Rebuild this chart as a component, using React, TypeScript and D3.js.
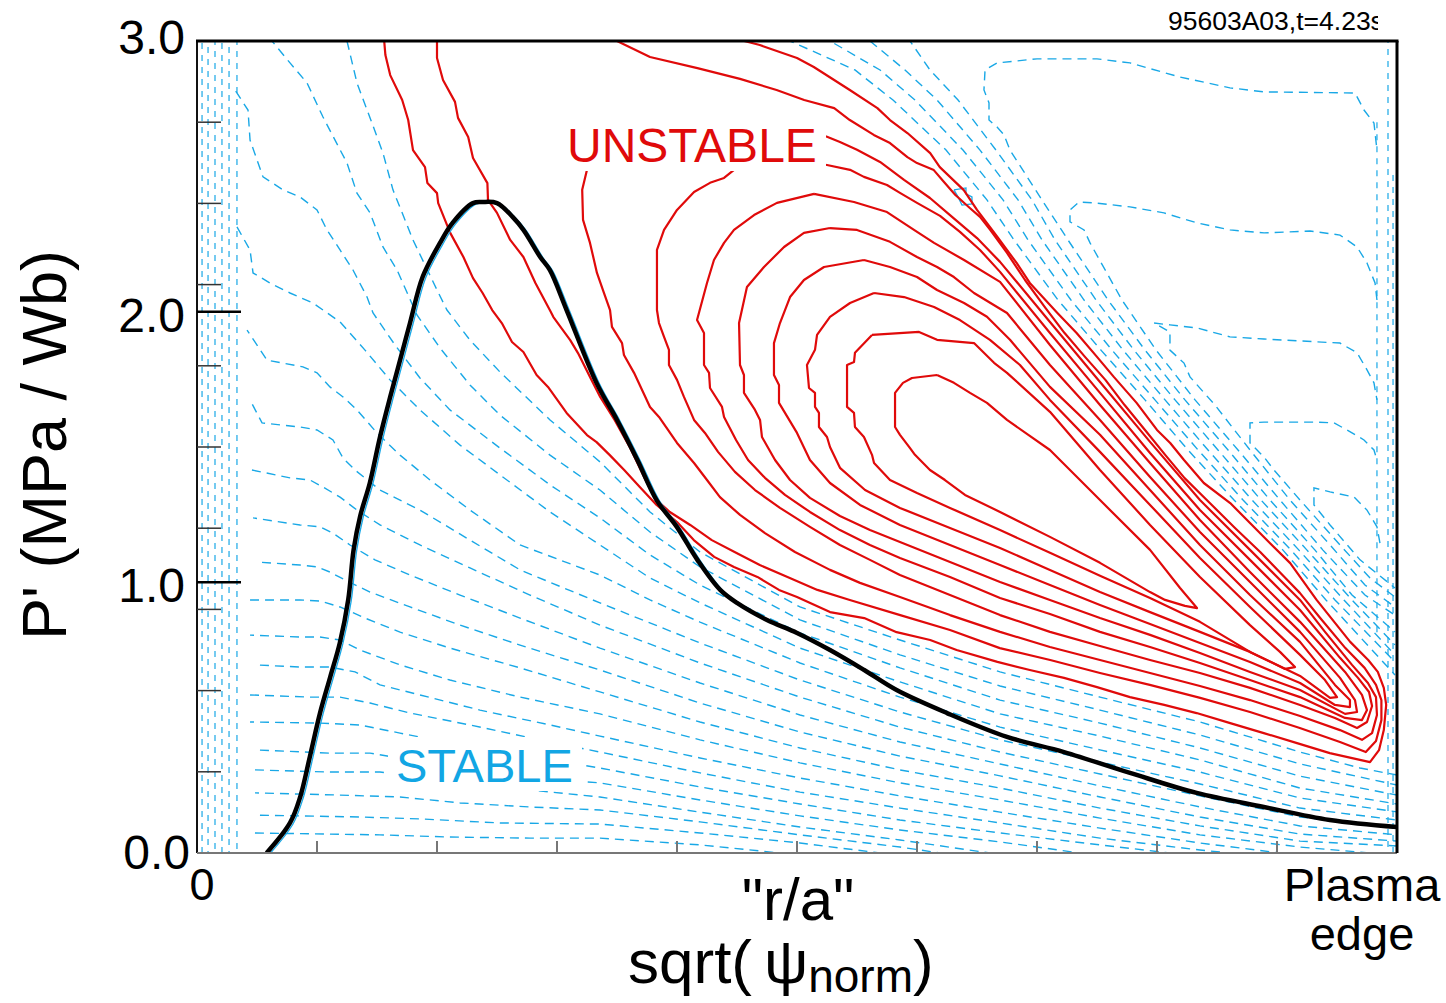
import React from "react";
import * as d3 from "d3";

// ---------- figure frame ----------
const W = 1446;
const H = 1003;
const PLOT = { left: 197, right: 1397, top: 41, bottom: 853 };

// ---------- axes ----------
const X_DOMAIN: [number, number] = [0, 1];
const Y_DOMAIN: [number, number] = [0, 3];
const Y_MAJOR = [0, 1, 2, 3];
const Y_MAJOR_LABELS = ["0.0", "1.0", "2.0", "3.0"];
const Y_MINOR = [0.3, 0.6, 0.9, 1.2, 1.5, 1.8, 2.1, 2.4, 2.7];
const X_MINOR = [0.1, 0.2, 0.3, 0.4, 0.5, 0.6, 0.7, 0.8, 0.9];

type Pt = [number, number];

// ---------- measured pressure-gradient profile P'(r/a) ----------
const profile: Pt[] = [
  [0.058, 0.0], [0.0775, 0.111], [0.086, 0.207], [0.094, 0.355], [0.1025, 0.517],
  [0.111, 0.65], [0.119, 0.776], [0.126, 0.935], [0.1305, 1.12], [0.136, 1.245],
  [0.144, 1.367], [0.1525, 1.537], [0.161, 1.685], [0.167, 1.784], [0.1775, 1.958],
  [0.188, 2.128], [0.2025, 2.254], [0.213, 2.328], [0.23, 2.401], [0.238, 2.405],
  [0.25, 2.401], [0.263, 2.35], [0.272, 2.302], [0.286, 2.202], [0.294, 2.154],
  [0.308, 2.006], [0.333, 1.736], [0.35, 1.6], [0.367, 1.452], [0.383, 1.304],
  [0.4, 1.204], [0.417, 1.083], [0.436, 0.972], [0.45, 0.924], [0.475, 0.861],
  [0.5, 0.813], [0.5275, 0.75], [0.556, 0.676], [0.583, 0.602], [0.625, 0.517],
  [0.675, 0.429], [0.7225, 0.373], [0.7775, 0.296], [0.833, 0.222], [0.889, 0.17],
  [0.944, 0.122], [1.0, 0.096],
];

// ---------- unstable growth-rate contours (outermost first) ----------
const growth1: Pt[] = [
  [0.156, 3.0], [0.157, 2.948], [0.161, 2.874], [0.171, 2.782], [0.176, 2.708], [0.18, 2.597],
  [0.19, 2.534], [0.192, 2.475], [0.2, 2.438], [0.201, 2.401], [0.211, 2.291], [0.222, 2.202],
  [0.23, 2.124], [0.238, 2.069], [0.246, 2.006], [0.254, 1.958], [0.2625, 1.888], [0.272, 1.851],
  [0.283, 1.766], [0.2925, 1.722], [0.308, 1.626], [0.325, 1.544], [0.333, 1.518], [0.344, 1.47],
  [0.356, 1.415], [0.369, 1.352], [0.383, 1.286], [0.4, 1.223], [0.414, 1.156], [0.431, 1.094],
  [0.4475, 1.057], [0.467, 1.02], [0.485, 0.972], [0.5, 0.946], [0.5275, 0.89], [0.556, 0.868],
  [0.583, 0.816], [0.611, 0.787], [0.633, 0.75], [0.667, 0.706], [0.694, 0.676], [0.7225, 0.647],
  [0.75, 0.613], [0.7775, 0.576], [0.806, 0.547], [0.833, 0.517], [0.861, 0.48], [0.889, 0.443],
  [0.9167, 0.406], [0.944, 0.369], [0.9775, 0.336], [0.985, 0.38], [0.989, 0.454], [0.991, 0.547],
  [0.989, 0.61], [0.984, 0.669], [0.976, 0.713], [0.961, 0.78], [0.933, 0.935], [0.911, 1.071],
  [0.894, 1.145], [0.8775, 1.219], [0.861, 1.293], [0.839, 1.367], [0.8225, 1.452], [0.811, 1.515],
  [0.8, 1.563], [0.783, 1.663], [0.764, 1.759], [0.75, 1.833], [0.733, 1.921], [0.717, 1.995],
  [0.694, 2.106], [0.683, 2.18], [0.667, 2.276], [0.65, 2.376], [0.639, 2.449], [0.619, 2.534],
  [0.611, 2.586], [0.592, 2.66], [0.5775, 2.708], [0.567, 2.752], [0.544, 2.819], [0.514, 2.904],
  [0.5, 2.937], [0.469, 2.985], [0.456, 3.0],
];
const growth2: Pt[] = [
  [0.2, 3.0], [0.2, 2.937], [0.205, 2.856], [0.215, 2.775], [0.2175, 2.716], [0.226, 2.645],
  [0.23, 2.568], [0.242, 2.475], [0.2425, 2.413], [0.25, 2.365], [0.261, 2.265], [0.272, 2.202],
  [0.282, 2.106], [0.294, 2.006], [0.297, 1.98], [0.311, 1.895], [0.3175, 1.847], [0.3275, 1.759],
  [0.336, 1.685], [0.348, 1.6], [0.361, 1.496], [0.373, 1.385], [0.383, 1.304], [0.394, 1.26],
  [0.411, 1.212], [0.429, 1.156], [0.448, 1.112], [0.469, 1.064], [0.494, 1.016], [0.517, 0.972],
  [0.544, 0.935], [0.586, 0.879], [0.6275, 0.824], [0.669, 0.757], [0.711, 0.713], [0.7525, 0.665],
  [0.794, 0.621], [0.836, 0.573], [0.8775, 0.521], [0.919, 0.462], [0.9525, 0.41], [0.974, 0.373],
  [0.9825, 0.414], [0.987, 0.491], [0.987, 0.565], [0.9825, 0.621], [0.973, 0.684], [0.957, 0.757],
  [0.936, 0.868], [0.919, 0.961], [0.907, 1.016], [0.886, 1.112], [0.865, 1.201], [0.844, 1.293],
  [0.823, 1.385], [0.807, 1.47], [0.79, 1.563], [0.773, 1.655], [0.757, 1.748], [0.74, 1.833],
  [0.723, 1.921], [0.707, 2.014], [0.69, 2.117], [0.675, 2.217], [0.661, 2.302], [0.6525, 2.35],
  [0.644, 2.383], [0.632, 2.431], [0.6225, 2.479], [0.614, 2.523], [0.6, 2.549], [0.592, 2.571],
  [0.5775, 2.623], [0.564, 2.653], [0.544, 2.708], [0.531, 2.752], [0.506, 2.782], [0.483, 2.819],
  [0.4525, 2.86], [0.417, 2.9], [0.3775, 2.941], [0.35, 3.0],
];
const growth3: Pt[] = [
  [0.336, 2.679], [0.3275, 2.634], [0.325, 2.524], [0.321, 2.45], [0.3217, 2.339], [0.3275, 2.254],
  [0.3333, 2.143], [0.3383, 2.08], [0.3442, 2.006], [0.3458, 1.944], [0.3542, 1.884], [0.3558, 1.84],
  [0.3642, 1.774], [0.3775, 1.648], [0.385, 1.611], [0.4, 1.515], [0.4142, 1.441], [0.425, 1.378],
  [0.4358, 1.315], [0.4525, 1.249], [0.4733, 1.182], [0.4983, 1.112], [0.5275, 1.046], [0.5525, 0.998],
  [0.5858, 0.946], [0.6275, 0.879], [0.6692, 0.817], [0.7108, 0.761], [0.7525, 0.713], [0.7942, 0.665],
  [0.8358, 0.617], [0.8775, 0.565], [0.9192, 0.506], [0.9525, 0.454], [0.9708, 0.418], [0.9792, 0.443],
  [0.9833, 0.51], [0.9825, 0.576], [0.9758, 0.628], [0.9625, 0.695], [0.94, 0.817], [0.9192, 0.935],
  [0.8775, 1.12], [0.8358, 1.304], [0.7942, 1.519], [0.7525, 1.74], [0.7108, 1.962], [0.6692, 2.184],
  [0.65, 2.272], [0.6275, 2.357], [0.6108, 2.42], [0.5892, 2.487], [0.5692, 2.553], [0.55, 2.598],
  [0.5358, 2.627], [0.525, 2.646], [0.5025, 2.679], [0.4192, 2.701], [0.3525, 2.694],
];
const growth4: Pt[] = [
  [0.4692, 2.561], [0.4475, 2.524], [0.4392, 2.494], [0.4275, 2.476], [0.4142, 2.442], [0.4, 2.376],
  [0.3892, 2.302], [0.3833, 2.228], [0.3833, 2.099], [0.3833, 2.006], [0.385, 1.958], [0.3892, 1.907],
  [0.3933, 1.859], [0.3933, 1.803], [0.4, 1.748], [0.4058, 1.685], [0.4142, 1.6], [0.4233, 1.552],
  [0.4342, 1.482], [0.4483, 1.408], [0.465, 1.341], [0.4858, 1.275], [0.5108, 1.205], [0.5358, 1.138],
  [0.5608, 1.083], [0.5858, 1.027], [0.6275, 0.953], [0.6692, 0.879], [0.7108, 0.817], [0.7525, 0.765],
  [0.7942, 0.713], [0.8358, 0.665], [0.8775, 0.61], [0.9192, 0.547], [0.9483, 0.499], [0.9667, 0.462],
  [0.975, 0.484], [0.9792, 0.543], [0.9767, 0.595], [0.9675, 0.647], [0.9525, 0.721], [0.9192, 0.898],
  [0.8775, 1.083], [0.8358, 1.267], [0.7942, 1.478], [0.7525, 1.7], [0.7108, 1.921], [0.6692, 2.147],
  [0.6525, 2.228], [0.6358, 2.295], [0.6192, 2.354], [0.6, 2.402], [0.5858, 2.439], [0.575, 2.468],
  [0.5558, 2.498], [0.5442, 2.524], [0.525, 2.542], [0.4942, 2.561], [0.4692, 2.561],
];
const growth5: Pt[] = [
  [0.5142, 2.435], [0.5475, 2.405], [0.575, 2.368], [0.5975, 2.302], [0.6142, 2.254], [0.6392, 2.191],
  [0.6692, 2.11], [0.7108, 1.877], [0.7525, 1.655], [0.7942, 1.441], [0.8358, 1.23], [0.8775, 1.038],
  [0.9192, 0.854], [0.9567, 0.669], [0.9708, 0.584], [0.975, 0.528], [0.9708, 0.491], [0.9567, 0.499],
  [0.9192, 0.576], [0.8775, 0.639], [0.8358, 0.702], [0.7942, 0.761], [0.7525, 0.817], [0.7108, 0.883],
  [0.6692, 0.942], [0.6275, 1.02], [0.5858, 1.09], [0.5608, 1.138], [0.5358, 1.193], [0.5108, 1.26],
  [0.49, 1.323], [0.4733, 1.386], [0.4592, 1.452], [0.4492, 1.526], [0.4392, 1.611], [0.4375, 1.648],
  [0.4275, 1.718], [0.4267, 1.774], [0.4225, 1.803], [0.4225, 1.921], [0.4167, 1.969], [0.425, 2.106],
  [0.4308, 2.191], [0.4392, 2.254], [0.4475, 2.302], [0.4642, 2.357], [0.4833, 2.402], [0.5142, 2.435],
];
const growth6: Pt[] = [
  [0.5275, 2.309], [0.55, 2.302], [0.5775, 2.258], [0.6, 2.202], [0.6167, 2.165], [0.6308, 2.128],
  [0.6475, 2.069], [0.675, 1.995], [0.7108, 1.803], [0.7525, 1.6], [0.7942, 1.389], [0.8358, 1.186],
  [0.8775, 1.001], [0.9192, 0.817], [0.9525, 0.647], [0.965, 0.565], [0.9667, 0.521], [0.9567, 0.514],
  [0.9192, 0.602], [0.8775, 0.669], [0.8358, 0.739], [0.7942, 0.806], [0.7525, 0.868], [0.7108, 0.935],
  [0.6692, 1.001], [0.6275, 1.075], [0.5858, 1.149], [0.5608, 1.193], [0.5358, 1.245], [0.5108, 1.312],
  [0.4942, 1.378], [0.4817, 1.452], [0.4708, 1.537], [0.4692, 1.6], [0.465, 1.637], [0.4558, 1.7],
  [0.4558, 1.766], [0.4525, 1.803], [0.4517, 1.958], [0.4583, 2.091], [0.4725, 2.165], [0.4892, 2.239],
  [0.5058, 2.291], [0.5275, 2.309],
];
const growth7: Pt[] = [
  [0.5558, 2.191], [0.5775, 2.165], [0.6, 2.128], [0.6167, 2.08], [0.6392, 2.032], [0.6583, 1.981],
  [0.6775, 1.896], [0.7108, 1.722], [0.7525, 1.545], [0.7942, 1.341], [0.8358, 1.138], [0.8775, 0.953],
  [0.9192, 0.78], [0.9483, 0.621], [0.9608, 0.565], [0.9608, 0.539], [0.9483, 0.547], [0.9192, 0.628],
  [0.8775, 0.706], [0.8358, 0.776], [0.7942, 0.846], [0.7525, 0.916], [0.7108, 0.99], [0.6692, 1.064],
  [0.6275, 1.138], [0.5858, 1.212], [0.5525, 1.286], [0.5275, 1.367], [0.5108, 1.452], [0.5, 1.552],
  [0.485, 1.663], [0.485, 1.729], [0.4808, 1.766], [0.4808, 1.884], [0.4858, 1.958], [0.4942, 2.054],
  [0.5058, 2.117], [0.5225, 2.165], [0.5558, 2.191],
];
const growth8: Pt[] = [
  [0.5642, 2.069], [0.5892, 2.054], [0.6142, 2.017], [0.6358, 1.969], [0.6608, 1.896], [0.6858, 1.803],
  [0.7108, 1.674], [0.7525, 1.482], [0.7942, 1.286], [0.8358, 1.09], [0.8775, 0.909], [0.9192, 0.732],
  [0.94, 0.639], [0.95, 0.576], [0.9442, 0.573], [0.9192, 0.654], [0.8775, 0.743], [0.8358, 0.817],
  [0.7942, 0.89], [0.7525, 0.964], [0.7108, 1.046], [0.6692, 1.127], [0.6275, 1.201], [0.5858, 1.275],
  [0.5567, 1.341], [0.5358, 1.423], [0.5275, 1.5], [0.525, 1.537], [0.5183, 1.574], [0.5183, 1.626],
  [0.515, 1.648], [0.515, 1.7], [0.51, 1.718], [0.5083, 1.803], [0.515, 1.859], [0.5167, 1.914],
  [0.5275, 1.981], [0.5442, 2.032], [0.5642, 2.069],
];
const growth9: Pt[] = [
  [0.5625, 1.914], [0.6017, 1.925], [0.6167, 1.896], [0.6475, 1.884], [0.6642, 1.811], [0.675, 1.774],
  [0.7108, 1.63], [0.7525, 1.415], [0.7942, 1.212], [0.8358, 1.02], [0.8775, 0.842], [0.9025, 0.743],
  [0.915, 0.687], [0.9067, 0.68], [0.8775, 0.743], [0.8358, 0.854], [0.7942, 0.942], [0.7525, 1.024],
  [0.7108, 1.109], [0.6692, 1.193], [0.6275, 1.275], [0.6, 1.33], [0.5775, 1.378], [0.5642, 1.441],
  [0.5625, 1.471], [0.5558, 1.537], [0.5483, 1.574], [0.5475, 1.626], [0.5417, 1.648], [0.5417, 1.803],
  [0.5475, 1.814], [0.5483, 1.848], [0.5625, 1.914],
];
const growth10: Pt[] = [
  [0.6167, 1.766], [0.6308, 1.737], [0.6442, 1.7], [0.6583, 1.663], [0.675, 1.6], [0.7108, 1.489],
  [0.7525, 1.304], [0.7942, 1.12], [0.8192, 0.979], [0.8333, 0.905], [0.8233, 0.913], [0.8067, 0.935],
  [0.7942, 0.964], [0.7525, 1.072], [0.7108, 1.168], [0.6692, 1.26], [0.64, 1.323], [0.6233, 1.378],
  [0.6108, 1.415], [0.5983, 1.471], [0.5942, 1.496], [0.5858, 1.545], [0.5817, 1.574], [0.5817, 1.7],
  [0.5883, 1.737], [0.5958, 1.755], [0.6167, 1.766],
];
const growthContours: Pt[][] = [
  growth1, growth2, growth3, growth4, growth5, growth6, growth7, growth8, growth9, growth10,
];

// ---------- stable contours: lower/left family ----------
const stableLow: Pt[][] = [
  [[0.125, 3.0], [0.1333, 2.845], [0.1458, 2.697], [0.155, 2.586], [0.1633, 2.45], [0.18, 2.265], [0.2, 2.08], [0.2083, 2.006], [0.2275, 1.895], [0.2525, 1.777], [0.2942, 1.6], [0.3358, 1.445], [0.3775, 1.26], [0.4192, 1.112], [0.5025, 0.909], [0.5858, 0.787], [0.6692, 0.669], [0.7525, 0.576], [0.8358, 0.484], [0.9192, 0.373], [0.9692, 0.314], [1.0, 0.288]],
  [[0.0625, 3.0], [0.0775, 2.919], [0.0917, 2.845], [0.105, 2.719], [0.125, 2.549], [0.1333, 2.438], [0.1442, 2.365], [0.155, 2.239], [0.1667, 2.154], [0.1833, 1.988], [0.2025, 1.866], [0.2275, 1.729], [0.2525, 1.618], [0.2942, 1.47], [0.3358, 1.341], [0.3775, 1.186], [0.4192, 1.057], [0.5025, 0.861], [0.5858, 0.732], [0.6692, 0.617], [0.7525, 0.528], [0.8358, 0.436], [0.9192, 0.329], [1.0, 0.251]],
  [[0.03, 2.83], [0.0425, 2.745], [0.0442, 2.634], [0.055, 2.498], [0.0717, 2.45], [0.0858, 2.424], [0.1, 2.376], [0.1083, 2.302], [0.1192, 2.228], [0.13, 2.154], [0.1417, 2.054], [0.1467, 1.995], [0.165, 1.877], [0.1858, 1.755], [0.2108, 1.637], [0.2525, 1.496], [0.2942, 1.36], [0.3358, 1.238], [0.3775, 1.101], [0.4192, 0.99], [0.5025, 0.813], [0.5858, 0.684], [0.6692, 0.565], [0.7525, 0.48], [0.8358, 0.388], [0.9192, 0.284], [1.0, 0.214]],
  [[0.0333, 2.313], [0.0442, 2.228], [0.0467, 2.143], [0.0608, 2.106], [0.0775, 2.069], [0.0967, 2.032], [0.1192, 1.962], [0.14, 1.858], [0.1608, 1.748], [0.1858, 1.637], [0.2192, 1.507], [0.2525, 1.397], [0.2942, 1.26], [0.3358, 1.138], [0.3775, 1.016], [0.4192, 0.924], [0.5025, 0.757], [0.5858, 0.632], [0.6692, 0.514], [0.7525, 0.432], [0.8358, 0.344], [0.9192, 0.24], [1.0, 0.181]],
  [[0.0417, 1.932], [0.0583, 1.821], [0.0883, 1.796], [0.1, 1.774], [0.1108, 1.722], [0.1217, 1.685], [0.1333, 1.637], [0.15, 1.552], [0.1692, 1.47], [0.1942, 1.378], [0.2275, 1.267], [0.2692, 1.138], [0.3358, 1.027], [0.3775, 0.935], [0.4192, 0.853], [0.5025, 0.702], [0.5858, 0.576], [0.6692, 0.465], [0.7525, 0.381], [0.8358, 0.299], [0.9192, 0.203], [1.0, 0.152]],
  [[0.0442, 1.674], [0.0542, 1.589], [0.0858, 1.574], [0.1, 1.563], [0.1133, 1.526], [0.1217, 1.459], [0.1317, 1.415], [0.1525, 1.341], [0.1858, 1.267], [0.2275, 1.156], [0.2692, 1.046], [0.3358, 0.924], [0.4192, 0.776], [0.5025, 0.639], [0.5858, 0.521], [0.6692, 0.418], [0.7525, 0.336], [0.8358, 0.255], [0.9192, 0.166], [1.0, 0.122]],
  [[0.0458, 1.415], [0.0775, 1.386], [0.0942, 1.378], [0.105, 1.352], [0.1192, 1.315], [0.1333, 1.267], [0.1525, 1.212], [0.1858, 1.138], [0.2275, 1.053], [0.2775, 0.953], [0.3358, 0.842], [0.4192, 0.702], [0.5025, 0.576], [0.5858, 0.465], [0.6692, 0.373], [0.7525, 0.292], [0.8358, 0.211], [0.9192, 0.133], [1.0, 0.092]],
  [[0.0467, 1.238], [0.0858, 1.212], [0.1025, 1.205], [0.1133, 1.182], [0.1275, 1.138], [0.1483, 1.083], [0.1775, 1.027], [0.2192, 0.953], [0.2692, 0.868], [0.3358, 0.757], [0.4192, 0.628], [0.5025, 0.51], [0.5858, 0.41], [0.6692, 0.329], [0.7525, 0.248], [0.8358, 0.17], [0.9192, 0.1], [1.0, 0.067]],
  [[0.05, 1.075], [0.0858, 1.064], [0.1, 1.057], [0.1108, 1.038], [0.1233, 1.009], [0.1442, 0.964], [0.1775, 0.909], [0.2192, 0.842], [0.2692, 0.768], [0.3358, 0.676], [0.4192, 0.554], [0.5025, 0.447], [0.5858, 0.358], [0.6692, 0.285], [0.7525, 0.207], [0.8358, 0.133], [0.9192, 0.07], [1.0, 0.044]],
  [[0.0442, 0.935], [0.0858, 0.935], [0.1025, 0.931], [0.1192, 0.909], [0.14, 0.868], [0.1692, 0.816], [0.2108, 0.757], [0.2692, 0.684], [0.3358, 0.595], [0.4192, 0.484], [0.5025, 0.388], [0.5858, 0.307], [0.6692, 0.24], [0.7525, 0.166], [0.8358, 0.1], [0.9192, 0.044], [1.0, 0.026]],
  [[0.0442, 0.805], [0.0858, 0.798], [0.1025, 0.798], [0.1192, 0.787], [0.1358, 0.75], [0.1692, 0.695], [0.2108, 0.639], [0.2692, 0.576], [0.3358, 0.514], [0.4192, 0.418], [0.5025, 0.333], [0.5858, 0.259], [0.6692, 0.196], [0.7525, 0.129], [0.8358, 0.067], [0.9192, 0.022], [0.9775, 0.0]],
  [[0.0483, 0.695], [0.0858, 0.687], [0.1108, 0.687], [0.1317, 0.669], [0.1525, 0.621], [0.1858, 0.584], [0.2358, 0.528], [0.2942, 0.473], [0.3358, 0.432], [0.4192, 0.351], [0.5025, 0.277], [0.5858, 0.211], [0.6692, 0.151], [0.7525, 0.092], [0.8358, 0.037], [0.9025, 0.0]],
  [[0.0442, 0.584], [0.0942, 0.576], [0.1192, 0.576], [0.1442, 0.554], [0.1775, 0.517], [0.2275, 0.473], [0.2858, 0.418], [0.3358, 0.373], [0.4192, 0.296], [0.5025, 0.225], [0.5858, 0.166], [0.6692, 0.111], [0.7525, 0.055], [0.8358, 0.011], [0.8608, 0.0]],
  [[0.0442, 0.484], [0.1025, 0.48], [0.1358, 0.473], [0.1692, 0.443], [0.2108, 0.406], [0.2692, 0.362], [0.3358, 0.314], [0.4192, 0.244], [0.5025, 0.181], [0.5858, 0.122], [0.6692, 0.074], [0.7525, 0.03], [0.8108, 0.0]],
  [[0.0483, 0.381], [0.1108, 0.369], [0.1442, 0.369], [0.1775, 0.344], [0.2192, 0.307], [0.2775, 0.277], [0.3358, 0.259], [0.4192, 0.196], [0.5025, 0.137], [0.5858, 0.085], [0.6692, 0.041], [0.7358, 0.0]],
  [[0.0483, 0.307], [0.1108, 0.299], [0.1525, 0.299], [0.1942, 0.277], [0.2525, 0.244], [0.3358, 0.207], [0.4192, 0.151], [0.5025, 0.096], [0.5858, 0.048], [0.6608, 0.0]],
  [[0.0483, 0.222], [0.1192, 0.214], [0.1692, 0.207], [0.2192, 0.185], [0.2775, 0.17], [0.3358, 0.159], [0.4192, 0.115], [0.5025, 0.067], [0.5858, 0.022], [0.6192, 0.0]],
  [[0.0483, 0.14], [0.1358, 0.133], [0.1858, 0.126], [0.2525, 0.111], [0.3358, 0.107], [0.4192, 0.074], [0.5025, 0.037], [0.5692, 0.0]],
  [[0.0483, 0.074], [0.1525, 0.067], [0.2108, 0.059], [0.2775, 0.055], [0.3358, 0.055], [0.4192, 0.03], [0.4858, 0.0]],
];

// ---------- stable contours: upper-right family ----------
const stableHigh: Pt[][] = [
  [[0.4942, 3.0], [0.5483, 2.893], [0.58, 2.782], [0.6242, 2.597], [0.6583, 2.413], [0.6808, 2.265], [0.7175, 2.043], [0.7533, 1.858], [0.79, 1.674], [0.8258, 1.489], [0.8642, 1.304], [0.905, 1.119], [0.9408, 0.935], [0.9792, 0.75], [0.9983, 0.658]],
  [[0.5275, 3.0], [0.5692, 2.893], [0.5983, 2.782], [0.6383, 2.597], [0.6717, 2.413], [0.6925, 2.265], [0.7283, 2.043], [0.7625, 1.858], [0.7983, 1.674], [0.8342, 1.489], [0.8717, 1.304], [0.9117, 1.119], [0.9483, 0.935], [0.9983, 0.706]],
  [[0.5608, 3.0], [0.59, 2.893], [0.6167, 2.782], [0.6525, 2.597], [0.6842, 2.413], [0.7042, 2.265], [0.7392, 2.043], [0.7717, 1.858], [0.8067, 1.674], [0.8425, 1.489], [0.8792, 1.304], [0.9183, 1.119], [0.9558, 0.935], [0.9983, 0.732]],
  [[0.5942, 3.0], [0.6108, 2.893], [0.6342, 2.782], [0.6658, 2.597], [0.6958, 2.413], [0.715, 2.265], [0.7492, 2.043], [0.7808, 1.858], [0.815, 1.674], [0.8508, 1.489], [0.8867, 1.304], [0.925, 1.119], [0.9625, 0.935], [0.9983, 0.769]],
  [[0.9833, 2.597], [0.9808, 2.697], [0.9725, 2.745], [0.965, 2.808], [0.8892, 2.812], [0.8608, 2.827], [0.819, 2.867], [0.7775, 2.919], [0.75, 2.934], [0.7, 2.934], [0.6667, 2.919], [0.6567, 2.893], [0.6558, 2.819], [0.66, 2.771], [0.66, 2.708], [0.6667, 2.682], [0.6725, 2.653], [0.6775, 2.597], [0.7025, 2.424], [0.7258, 2.265], [0.7592, 2.043], [0.79, 1.858], [0.8233, 1.674], [0.8592, 1.489], [0.8942, 1.304], [0.9317, 1.119], [0.9625, 0.953], [0.9983, 0.817]],
  [[0.9833, 2.043], [0.9817, 2.106], [0.975, 2.18], [0.9667, 2.239], [0.9525, 2.283], [0.9275, 2.298], [0.8892, 2.291], [0.8608, 2.302], [0.8333, 2.328], [0.8058, 2.365], [0.7775, 2.387], [0.75, 2.401], [0.735, 2.405], [0.7275, 2.376], [0.7275, 2.332], [0.7392, 2.302], [0.7442, 2.254], [0.7708, 2.043], [0.7992, 1.858], [0.8317, 1.674], [0.8675, 1.489], [0.9025, 1.304], [0.9383, 1.119], [0.9733, 0.953], [0.9983, 0.879]],
  [[0.9833, 1.674], [0.9808, 1.737], [0.975, 1.785], [0.9667, 1.848], [0.9525, 1.884], [0.8892, 1.899], [0.8608, 1.907], [0.8333, 1.94], [0.8108, 1.951], [0.7975, 1.958], [0.8108, 1.925], [0.8108, 1.858], [0.8225, 1.81], [0.8275, 1.759], [0.8483, 1.655], [0.8775, 1.489], [0.9108, 1.304], [0.9442, 1.138], [0.9733, 0.99], [0.9983, 0.909]],
  [[0.9833, 1.452], [0.9808, 1.489], [0.9725, 1.526], [0.9583, 1.563], [0.9475, 1.589], [0.9308, 1.592], [0.8892, 1.592], [0.8775, 1.589], [0.8775, 1.515], [0.8892, 1.463], [0.8975, 1.415], [0.9192, 1.304], [0.9525, 1.138], [0.9775, 1.016], [0.9983, 0.946]],
  [[0.9858, 1.145], [0.9833, 1.205], [0.975, 1.267], [0.9642, 1.315], [0.9442, 1.334], [0.9308, 1.349], [0.9308, 1.286], [0.9442, 1.212], [0.9692, 1.083], [0.9983, 0.979]],
];

// near-vertical stable contours hugging the axis and the plasma edge
const stableEdges: Pt[][] = [
  [[0.0042, 0.0], [0.0042, 3.0]],
  [[0.0092, 0.0], [0.0092, 3.0]],
  [[0.015, 0.0], [0.015, 3.0]],
  [[0.0208, 0.0], [0.0208, 3.0]],
  [[0.0267, 0.0], [0.0267, 3.0]],
  [[0.0333, 0.0], [0.0333, 3.0]],
  [[0.9833, 2.7], [0.9833, 0.8]],
  [[0.9925, 3.0], [0.9925, 0.0]],
  [[0.9967, 2.52], [0.9967, 0.0]],
];

// small isolated stable island next to the unstable band
const stableIsland: Pt[] = [
  [0.6308, 2.45], [0.6408, 2.457], [0.6408, 2.435], [0.6458, 2.424], [0.6458, 2.398],
  [0.6375, 2.394], [0.6342, 2.424], [0.6308, 2.45],
];

// ---------- component ----------
const FONT = "'Liberation Sans', Arial, Helvetica, sans-serif";
const RED = "#e00a0a";
const BLUE = "#19a8e6";
// vertical nudges (px) that centre each y tick label on its tick
const Y_LABEL_SHIFT = [-1, 3, 3, -4];

export default function App() {
  const x = d3.scaleLinear().domain(X_DOMAIN).range([PLOT.left, PLOT.right]);
  const y = d3.scaleLinear().domain(Y_DOMAIN).range([PLOT.bottom, PLOT.top]);
  const line = d3
    .line<Pt>()
    .x((d) => x(d[0]))
    .y((d) => y(d[1]))
    .curve(d3.curveLinear);
  const smooth = d3
    .line<Pt>()
    .x((d) => x(d[0]))
    .y((d) => y(d[1]))
    .curve(d3.curveCatmullRom.alpha(0.5));

  const stableAll = [...stableLow, ...stableHigh];

  return (
    <svg
      width={W}
      height={H}
      viewBox={`0 0 ${W} ${H}`}
      style={{ position: "absolute", left: 0, top: 0, background: "#fff" }}
    >
      <defs>
        <clipPath id="plotArea">
          <rect x={PLOT.left} y={PLOT.top} width={PLOT.right - PLOT.left} height={PLOT.bottom - PLOT.top} />
        </clipPath>
        <clipPath id="shotLabel">
          <rect x={1100} y={0} width={278} height={40} />
        </clipPath>
      </defs>

      <rect x={0} y={0} width={W} height={H} fill="#fff" />

      <g clipPath="url(#plotArea)">
        {/* stable levels */}
        <g fill="none" stroke={BLUE} strokeWidth={1.4} strokeDasharray="9 6">
          {stableAll.map((c, i) => (
            <path key={"s" + i} d={line(c) || ""} strokeDashoffset={(i * 5) % 15} />
          ))}
          {stableEdges.map((c, i) => (
            <path
              key={"e" + i}
              d={line(c) || ""}
              strokeWidth={1.2}
              strokeDasharray="6 6"
              strokeDashoffset={(i * 4) % 12}
            />
          ))}
        </g>
        <path d={line(stableIsland) || ""} fill="none" stroke={BLUE} strokeWidth={1.3} />

        {/* unstable levels */}
        <g fill="none" stroke={RED} strokeWidth={2.2} strokeLinejoin="round">
          {growthContours.map((c, i) => (
            <path key={"g" + i} d={line(c) || ""} />
          ))}
        </g>

        {/* profile */}
        <path d={smooth(profile) || ""} fill="none" stroke={BLUE} strokeWidth={1.3} transform="translate(3,1)" />
        <path d={smooth(profile) || ""} fill="none" stroke="#000" strokeWidth={4.5} strokeLinejoin="round" />
      </g>

      {/* region labels */}
      <rect x={562} y={115} width={264} height={56} fill="#fff" />
      <text x={567} y={162} fontFamily={FONT} fontSize={48} fill={RED}>
        UNSTABLE
      </text>
      <rect x={388} y={737} width={194} height={54} fill="#fff" />
      <text x={396} y={782} fontFamily={FONT} fontSize={47} fill="#12a6e4">
        STABLE
      </text>

      {/* frame */}
      <line x1={PLOT.left} x2={PLOT.left} y1={PLOT.top} y2={PLOT.bottom} stroke="#111" strokeWidth={2} />
      <line x1={PLOT.left} x2={PLOT.right} y1={PLOT.bottom} y2={PLOT.bottom} stroke="#777" strokeWidth={2} />
      <line x1={PLOT.left - 1} x2={PLOT.right + 1.5} y1={PLOT.top} y2={PLOT.top} stroke="#000" strokeWidth={3} />
      <line x1={PLOT.right} x2={PLOT.right} y1={PLOT.top} y2={PLOT.bottom} stroke="#000" strokeWidth={3} />

      {/* y ticks */}
      {Y_MINOR.map((v) => (
        <line key={"ym" + v} x1={PLOT.left} x2={PLOT.left + 24} y1={y(v)} y2={y(v)} stroke="#333" strokeWidth={1.5} />
      ))}
      {Y_MAJOR.filter((v) => v > 0 && v < 3).map((v) => (
        <line key={"yM" + v} x1={PLOT.left} x2={PLOT.left + 44} y1={y(v)} y2={y(v)} stroke="#000" strokeWidth={2.5} />
      ))}
      {Y_MAJOR.map((v, i) => (
        <text
          key={"yl" + v}
          x={v === 0 ? 190 : 185}
          y={y(v) + 17 + Y_LABEL_SHIFT[i]}
          textAnchor="end"
          fontFamily={FONT}
          fontSize={48}
          fill="#000"
        >
          {Y_MAJOR_LABELS[i]}
        </text>
      ))}

      {/* x ticks */}
      {X_MINOR.map((v) => (
        <line key={"xm" + v} x1={x(v)} x2={x(v)} y1={PLOT.bottom} y2={PLOT.bottom - 12} stroke="#777" strokeWidth={2} />
      ))}

      {/* axis titles */}
      <text x={x(0) + 5} y={900} textAnchor="middle" fontFamily={FONT} fontSize={45}>
        0
      </text>
      <text x={798} y={920} textAnchor="middle" fontFamily={FONT} fontSize={60}>
        "r/a"
      </text>
      <text x={628} y={983} fontFamily={FONT} fontSize={62}>
        sqrt(
        <tspan dx={12}>ψ</tspan>
        <tspan fontSize={46} dy={9}>norm</tspan>
        <tspan dy={-9}>)</tspan>
      </text>
      <text x={1362} y={901} textAnchor="middle" fontFamily={FONT} fontSize={47}>
        Plasma
      </text>
      <text x={1362} y={950} textAnchor="middle" fontFamily={FONT} fontSize={47}>
        edge
      </text>
      <text
        transform="translate(66,445) rotate(-90)"
        textAnchor="middle"
        fontFamily={FONT}
        fontSize={63}
      >
        P' (MPa / Wb)
      </text>

      {/* shot identifier */}
      <g clipPath="url(#shotLabel)">
        <text x={1168} y={30} fontFamily={FONT} fontSize={26.5} fill="#000">
          95603A03,t=4.23s
        </text>
      </g>
    </svg>
  );
}
